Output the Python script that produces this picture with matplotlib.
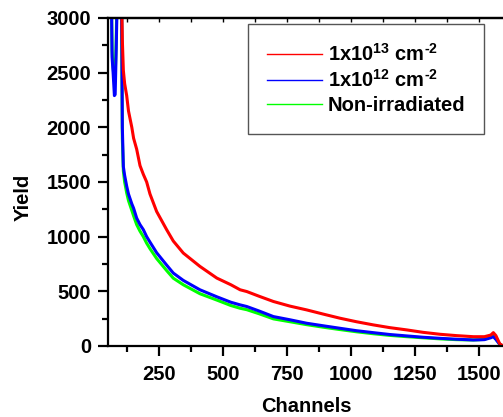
import matplotlib
matplotlib.use("Agg")
import matplotlib.pyplot as plt
from matplotlib.ticker import MultipleLocator

plt.rcParams['font.family'] = ['Liberation Sans', 'DejaVu Sans']
plt.rcParams['font.weight'] = 'bold'
plt.rcParams['mathtext.fontset'] = 'custom'
plt.rcParams['mathtext.bf'] = 'Liberation Sans:bold'
plt.rcParams['mathtext.rm'] = 'Liberation Sans:bold'
plt.rcParams['mathtext.default'] = 'bf'

channels = [55, 62, 66, 70, 75, 78, 82, 86, 95, 103, 106, 110, 115, 123, 130, 143,
            150, 162, 175, 188, 201, 214, 240, 279, 305, 344, 409, 475, 530, 566,
            592, 640, 696, 760, 826, 890, 956, 1020, 1086, 1150, 1217, 1280, 1347,
            1410, 1477, 1520, 1545, 1555, 1565, 1580, 1590, 1600]

yield_1e13 = [6000, 5800, 5600, 5400, 5200, 5000, 4800, 4500, 3900, 3200, 2800, 2520,
              2400, 2290, 2150, 2000, 1900, 1800, 1650, 1570, 1500, 1390, 1230, 1064,
              960, 850, 728, 621, 560, 514, 498, 455, 407, 365, 330, 292, 254, 222,
              193, 168, 147, 125, 107, 95, 85, 85, 100, 122, 95, 20, 5, 0]

yield_1e12 = [6000, 3500, 2640, 2500, 2290, 2300, 2700, 3200, 3600, 3200, 2000, 1640,
              1560, 1462, 1390, 1300, 1260, 1170, 1110, 1064, 1000, 950, 853, 740,
              667, 600, 514, 450, 400, 376, 361, 320, 269, 240, 208, 185, 162, 140,
              122, 105, 92, 80, 70, 62, 55, 58, 75, 85, 60, 15, 3, 0]

yield_nonirr = [6000, 3400, 2700, 2550, 2420, 2450, 2800, 3300, 3600, 3100, 1900, 1600,
                1500, 1400, 1330, 1240, 1190, 1110, 1050, 1000, 940, 890, 800, 690,
                620, 560, 478, 420, 370, 345, 332, 295, 248, 222, 195, 172, 150, 130,
                112, 97, 85, 75, 65, 58, 55, 60, 85, 95, 65, 15, 3, 0]

labels = [r'1x10$^{13}$ cm$^{\text{-2}}$', r'1x10$^{12}$ cm$^{\text{-2}}$', 'Non-irradiated']

fig = plt.figure(figsize=(5.03, 4.17), dpi=100)
ax = fig.add_axes([0.2147, 0.1703, 0.789, 0.7866])

l3, = ax.plot(channels, yield_nonirr, color='#00ff00', lw=2.2)
l2, = ax.plot(channels, yield_1e12, color='#0000ff', lw=2.2)
l1, = ax.plot(channels, yield_1e13, color='#ff0000', lw=2.2)

ax.set_xlim(50, 1600)
ax.set_ylim(0, 3000)
ax.xaxis.set_major_locator(MultipleLocator(250))
ax.xaxis.set_minor_locator(MultipleLocator(125))
ax.yaxis.set_major_locator(MultipleLocator(500))
ax.yaxis.set_minor_locator(MultipleLocator(250))

for s in ax.spines.values():
    s.set_linewidth(1.6)
ax.spines['right'].set_visible(False)

ax.tick_params(axis='both', which='major', direction='out', length=7, width=1.6,
               labelsize=14.5, pad=5)
ax.tick_params(axis='both', which='minor', direction='out', length=4, width=1.6)
ax.tick_params(axis='x', which='major', pad=7)

# small inward ticks along the top edge
top = ax.secondary_xaxis('top')
top.xaxis.set_major_locator(MultipleLocator(250))
top.xaxis.set_minor_locator(MultipleLocator(125))
top.tick_params(which='both', direction='in', length=3, width=1.0, labeltop=False)
top.spines['top'].set_linewidth(1.6)

ax.set_xlabel('Channels', fontsize=14.5, fontweight='bold')
ax.set_ylabel('Yield', fontsize=14.5, fontweight='bold')
ax.xaxis.set_label_coords(0.5, -0.155)
ax.yaxis.set_label_coords(-0.19, 0.454)

leg = ax.legend([l1, l2, l3], labels,
                loc='upper left', bbox_to_anchor=(0.353, 0.982), borderaxespad=0,
                fontsize=14.5, handlelength=2.7, handletextpad=0.3, borderpad=0.95,
                labelspacing=0.22, fancybox=False, framealpha=1)
leg.get_frame().set_edgecolor('#555555')
leg.get_frame().set_linewidth(1.0)
for line in leg.get_lines():
    line.set_linewidth(1.0)

fig.savefig('out.png', dpi=100)
